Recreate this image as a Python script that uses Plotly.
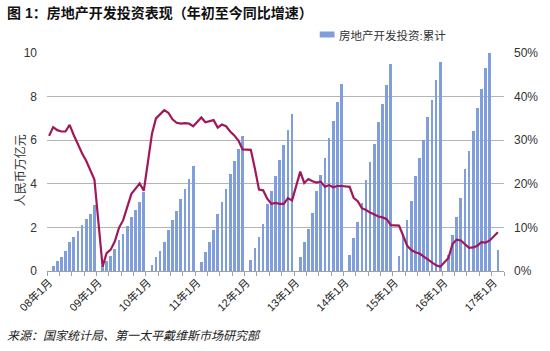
import pandas as pd
import plotly.graph_objects as go

# ---------------- data ----------------
months = pd.date_range("2008-01-01", "2017-03-01", freq="MS")

# cumulative real-estate development investment (trillion RMB), Feb..Dec each year
invest_2008 = [0.22, 0.44, 0.66, 0.92, 1.31, 1.56, 1.82, 2.12, 2.38, 2.62, 3.05]
invest_2009 = [0.23, 0.45, 0.69, 0.99, 1.40, 1.72, 2.08, 2.48, 2.82, 3.18, 3.62]
invest_2010 = [0.29, 0.62, 0.94, 1.33, 1.89, 2.32, 2.77, 3.30, 3.76, 4.23, 4.80]
invest_2011 = [0.40, 0.86, 1.33, 1.86, 2.62, 3.16, 3.76, 4.43, 5.03, 5.60, 6.17]
invest_2012 = [0.50, 1.07, 1.57, 2.16, 3.06, 3.67, 4.36, 5.10, 5.76, 6.48, 7.18]
invest_2013 = [0.63, 1.33, 1.91, 2.68, 3.68, 4.42, 5.20, 6.11, 6.88, 7.73, 8.60]
invest_2014 = [0.72, 1.52, 2.25, 3.11, 4.19, 5.01, 5.83, 6.82, 7.64, 8.55, 9.50]
invest_2015 = [0.70, 1.60, 2.33, 3.20, 4.37, 5.17, 5.99, 7.06, 7.84, 8.77, 9.60]
invest_2016 = [0.73, 1.66, 2.48, 3.37, 4.66, 5.49, 6.43, 7.46, 8.37, 9.31, 10.0]
invest_2017 = [0.96]

# year-to-date YoY growth (%), Feb..Dec each year
yoy_2008_jan = 31.0
yoy_2008 = [33.0, 32.3, 32.0, 32.0, 33.5, 31.2, 29.0, 27.0, 25.3, 23.3, 21.0]
yoy_2009 = [1.0, 4.1, 4.9, 6.8, 9.9, 11.6, 14.7, 17.7, 18.9, 20.1, 18.4]
yoy_2010 = [31.5, 35.0, 36.0, 36.9, 36.3, 34.8, 34.0, 33.8, 33.9, 33.8, 33.2]
yoy_2011 = [35.2, 34.1, 34.3, 34.6, 32.9, 33.6, 33.2, 32.0, 31.1, 29.9, 27.9]
yoy_2012 = [27.8, 23.5, 18.7, 18.5, 16.6, 15.4, 15.6, 15.4, 15.4, 16.7, 16.2]
yoy_2013 = [22.8, 20.2, 21.1, 20.6, 20.3, 20.5, 19.3, 19.7, 19.2, 19.5, 19.5]
yoy_2014 = [19.3, 16.8, 16.0, 14.4, 14.0, 13.4, 13.0, 12.5, 12.3, 11.9, 10.5]
yoy_2015 = [10.4, 8.2, 5.8, 4.8, 4.3, 4.0, 3.3, 2.5, 1.8, 1.3, 1.0]
yoy_2016 = [3.0, 6.2, 7.2, 7.0, 6.1, 5.3, 5.4, 5.8, 6.6, 6.5, 7.0]
yoy_2017 = [8.9]

year_labels = ["08年1月", "09年1月", "10年1月", "11年1月", "12年1月",
               "13年1月", "14年1月", "15年1月", "16年1月", "17年1月"]

bar_name = "房地产开发投资:累计"
title_text = "图 1：房地产开发投资表现（年初至今同比增速）"
source_text = "来源：国家统计局、第一太平戴维斯市场研究部"
y_title = "人民币万亿元"

# ---------------- assemble monthly series ----------------
invest_years = [invest_2008, invest_2009, invest_2010, invest_2011, invest_2012,
                invest_2013, invest_2014, invest_2015, invest_2016]
yoy_years = [yoy_2008, yoy_2009, yoy_2010, yoy_2011, yoy_2012,
             yoy_2013, yoy_2014, yoy_2015, yoy_2016]

invest = []
yoy = []
for k, (iv, yv) in enumerate(zip(invest_years, yoy_years)):
    invest += [None] + iv
    yoy += [yoy_2008_jan if k == 0 else None] + yv
invest += [None] + invest_2017 + [None]
yoy += [None] + yoy_2017 + [None]

# ---------------- figure ----------------
FONT = "Arial, 'Liberation Sans', 'Noto Sans CJK SC', sans-serif"
BAR_COLOR = "#7f9edb"
LINE_COLOR = "#a0185a"
GRID = "#b4b4b4"

fig = go.Figure()
month_ms = 30.44 * 24 * 3600 * 1000
fig.add_trace(go.Bar(
    x=months, y=invest, name=bar_name, yaxis="y",
    xperiod="M1", xperiodalignment="middle",
    width=month_ms * 0.66,
    marker=dict(color=BAR_COLOR, line=dict(width=0)),
    showlegend=False,
))
fig.add_trace(go.Scatter(
    x=months, y=yoy, yaxis="y2", mode="lines", connectgaps=True,
    xperiod="M1", xperiodalignment="middle",
    line=dict(color=LINE_COLOR, width=2.2),
    showlegend=False,
))

# plot-area geometry (px)
L, R, T, Bm = 47, 509.5, 53, 271
W, H = R - L, Bm - T

def px(x):
    return (x - L) / W

def py(y):
    return (Bm - y) / H

tickvals = [f"{2008 + i}-01-16" for i in range(len(year_labels))]

fig.update_layout(
    width=550, height=351,
    margin=dict(l=L, r=550 - R, t=T, b=351 - Bm, pad=0),
    paper_bgcolor="white", plot_bgcolor="white",
    font=dict(family=FONT, size=11, color="#333333"),
    bargap=0,
    xaxis=dict(
        type="date",
        range=["2008-01-01", "2017-04-01"],
        tickmode="array", tickvals=tickvals, ticktext=year_labels,
        tickangle=-45, ticks="", showgrid=False,
        tickfont=dict(size=11, color="#222222"),
        showline=True, linecolor="#a0a0a0", linewidth=1,
        minor=dict(ticks="outside", ticklen=4, tickcolor="#a0a0a0",
                   tickmode="linear", dtick="M3", tick0="2008-01-01",
                   showgrid=False),
        fixedrange=True,
    ),
    yaxis=dict(
        range=[0, 10], tickvals=[0, 2, 4, 6, 8, 10],
        showgrid=True, gridcolor=GRID, gridwidth=1.3,
        zeroline=False, showline=False, ticks="",
        tickfont=dict(size=12, color="#333333"),
        ticklabelstandoff=9,
    ),
    yaxis2=dict(
        range=[0, 50], tickvals=[0, 10, 20, 30, 40, 50],
        ticktext=["0%", "10%", "20%", "30%", "40%", "50%"],
        overlaying="y", side="right",
        showgrid=False, zeroline=False, showline=False, ticks="",
        tickfont=dict(size=12, color="#333333"),
        ticklabelstandoff=9,
    ),
)

annotations = [
    dict(text="<b>" + title_text + "</b>", x=px(4), y=py(12.5),
         xanchor="left", yanchor="middle", showarrow=False,
         font=dict(size=14, color="#111111")),
    dict(text=bar_name, x=px(340), y=py(35), xanchor="left", yanchor="middle",
         showarrow=False, font=dict(size=11.5, color="#333333")),
    dict(text=y_title, x=px(20), y=py(170), textangle=-90,
         xanchor="center", yanchor="middle", showarrow=False,
         font=dict(size=12, color="#333333")),
    dict(text="<i>" + source_text + "</i>", x=px(4), y=py(336),
         xanchor="left", yanchor="middle", showarrow=False,
         font=dict(size=12, color="#222222")),
]
for a in annotations:
    a.update(xref="paper", yref="paper")
fig.update_layout(annotations=annotations)

fig.add_shape(type="rect", xref="paper", yref="paper",
              x0=px(323), x1=px(338), y0=py(37.5), y1=py(31.5),
              fillcolor=BAR_COLOR, line=dict(width=0))

fig.write_html("out.html")
